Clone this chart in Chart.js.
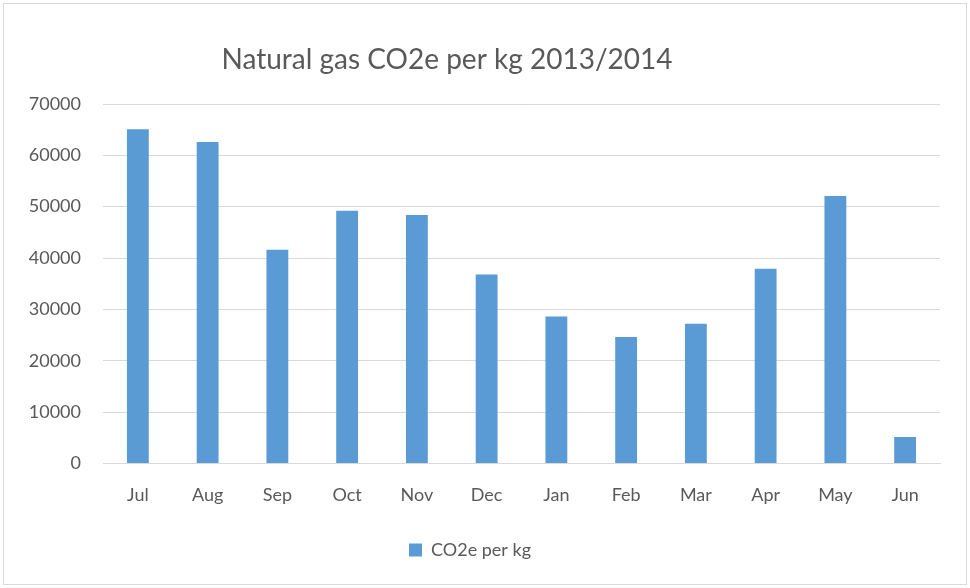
<!DOCTYPE html>
<html>
<head>
<meta charset="utf-8">
<script src="https://cdn.jsdelivr.net/npm/chart.js@4"></script>
<style>
  html, body { margin: 0; padding: 0; background: #fff; }
  #wrap { width: 970px; height: 588px; position: relative; }
</style>
</head>
<body>
<div id="wrap"><canvas id="chart" width="970" height="588"></canvas></div>
<script>
const months = ['Jul', 'Aug', 'Sep', 'Oct', 'Nov', 'Dec', 'Jan', 'Feb', 'Mar', 'Apr', 'May', 'Jun']
const co2ePerKg = [65100, 62600, 41600, 49200, 48400, 36800, 28600, 24600, 27200, 37900, 52100, 5150]
const chartTitle = 'Natural gas CO2e per kg 2013/2014'
const seriesLabel = 'CO2e per kg'

const fontFamily = 'Lato, "Open Sans", sans-serif'
const textColor = '#595959'
const gridColor = '#d9d9d9'
const barColor = '#5b9bd5'

// frame round the whole chart plus the title, Excel style
const framePlugin = {
    id: 'frame',
    beforeDraw(chart) {
        const ctx = chart.ctx
        ctx.save()
        ctx.fillStyle = '#fff'
        ctx.fillRect(0, 0, chart.width, chart.height)
        ctx.strokeStyle = gridColor
        ctx.lineWidth = 1
        ctx.strokeRect(3.5, 3.5, chart.width - 7, chart.height - 7)
        ctx.restore()
    },
    afterDraw(chart) {
        const ctx = chart.ctx
        ctx.save()
        ctx.font = '28px ' + fontFamily
        ctx.fillStyle = textColor
        ctx.textAlign = 'center'
        ctx.textBaseline = 'middle'
        ctx.fillText(chartTitle, 447, 60)
        ctx.restore()
    }
}

Chart.defaults.animation = false
Chart.defaults.font.family = fontFamily
Chart.defaults.color = textColor

new Chart(document.getElementById('chart'), {
    type: 'bar',
    data: {
        labels: months,
        datasets: [{
            label: seriesLabel,
            data: co2ePerKg,
            backgroundColor: barColor,
            borderWidth: 0,
            barPercentage: 0.313,
            categoryPercentage: 1.0,
        }]
    },
    options: {
        responsive: false,
        maintainAspectRatio: false,
        layout: {
            padding: { top: 104, left: 0, right: 30, bottom: 19 }
        },
        scales: {
            y: {
                min: 0,
                max: 70000,
                afterFit: (axis) => { axis.width = 103 },
                ticks: {
                    stepSize: 10000,
                    padding: 22,
                    font: { size: 18 },
                    color: textColor,
                    callback: (v) => String(v),
                },
                grid: { color: gridColor, drawTicks: false },
                border: { display: false },
            },
            x: {
                ticks: {
                    padding: 21,
                    font: { size: 18 },
                    color: textColor,
                },
                grid: { display: false, drawTicks: false },
                border: { color: gridColor },
            },
        },
        plugins: {
            legend: {
                position: 'bottom',
                labels: {
                    boxWidth: 13,
                    boxHeight: 13,
                    padding: 14,
                    font: { size: 18 },
                    color: textColor,
                },
            },
            title: { display: false },
            tooltip: { enabled: false },
        },
    },
    plugins: [framePlugin]
})
</script>
</body>
</html>
